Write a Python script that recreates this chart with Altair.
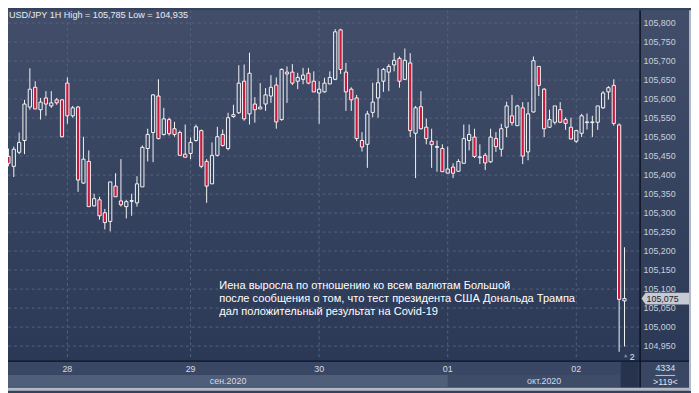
import altair as alt
import pandas as pd

# ---------------- data ----------------
opens = [105.426, 105.449, 105.423, 105.460, 105.491, 105.579, 105.631, 105.572, 105.603, 105.582,
         105.598, 105.598, 105.642, 105.556, 105.579, 105.379, 105.436, 105.319, 105.335, 105.301,
         105.278, 105.371, 105.332, 105.317, 105.331, 105.327, 105.369, 105.470, 105.512, 105.608,
         105.507, 105.546, 105.522, 105.512, 105.455, 105.457, 105.491, 105.517, 105.436, 105.377,
         105.452, 105.507, 105.470, 105.554, 105.564, 105.647, 105.561, 105.587, 105.574, 105.587,
         105.608, 105.637, 105.546, 105.671, 105.671, 105.647, 105.652, 105.668, 105.647, 105.616,
         105.619, 105.640, 105.652, 105.782, 105.671, 105.626, 105.603, 105.491, 105.481, 105.565,
         105.603, 105.647, 105.671, 105.690, 105.707, 105.652, 105.695, 105.510, 105.580, 105.526,
         105.489, 105.473, 105.470, 105.405, 105.421, 105.410, 105.431, 105.491, 105.500, 105.446,
         105.452, 105.435, 105.496, 105.468, 105.526, 105.556, 105.530, 105.577, 105.461, 105.566,
         105.686, 105.626, 105.526, 105.539, 105.572, 105.546, 105.526, 105.489, 105.510, 105.538,
         105.538, 105.539, 105.577, 105.619, 105.636, 105.532, 105.069]
highs = [105.465, 105.470, 105.475, 105.512, 105.598, 105.681, 105.647, 105.603, 105.621, 105.621,
         105.603, 105.600, 105.657, 105.582, 105.582, 105.501, 105.465, 105.351, 105.343, 105.311,
         105.382, 105.405, 105.442, 105.335, 105.351, 105.397, 105.478, 105.522, 105.613, 105.652,
         105.577, 105.551, 105.540, 105.517, 105.533, 105.499, 105.533, 105.520, 105.442, 105.486,
         105.527, 105.520, 105.564, 105.585, 105.689, 105.691, 105.722, 105.605, 105.642, 105.629,
         105.663, 105.657, 105.681, 105.686, 105.692, 105.669, 105.682, 105.682, 105.673, 105.647,
         105.656, 105.673, 105.784, 105.785, 105.695, 105.631, 105.611, 105.513, 105.569, 105.643,
         105.681, 105.682, 105.692, 105.722, 105.712, 105.733, 105.721, 105.582, 105.621, 105.549,
         105.522, 105.491, 105.481, 105.475, 105.431, 105.442, 105.533, 105.533, 105.522, 105.481,
         105.458, 105.522, 105.513, 105.535, 105.593, 105.611, 105.585, 105.592, 105.592, 105.712,
         105.686, 105.629, 105.572, 105.582, 105.592, 105.552, 105.551, 105.519, 105.561, 105.562,
         105.556, 105.582, 105.621, 105.634, 105.652, 105.536, 105.210]
lows = [105.413, 105.423, 105.395, 105.455, 105.455, 105.572, 105.574, 105.546, 105.556, 105.577,
        105.585, 105.499, 105.535, 105.551, 105.356, 105.377, 105.317, 105.317, 105.283, 105.257,
        105.252, 105.343, 105.317, 105.286, 105.293, 105.317, 105.369, 105.436, 105.434, 105.494,
        105.504, 105.504, 105.501, 105.452, 105.447, 105.442, 105.488, 105.418, 105.327, 105.377,
        105.449, 105.475, 105.465, 105.551, 105.561, 105.543, 105.533, 105.538, 105.574, 105.569,
        105.590, 105.522, 105.543, 105.590, 105.637, 105.626, 105.639, 105.639, 105.618, 105.535,
        105.617, 105.639, 105.650, 105.666, 105.569, 105.569, 105.489, 105.462, 105.419, 105.552,
        105.551, 105.619, 105.621, 105.673, 105.630, 105.650, 105.500, 105.392, 105.520, 105.481,
        105.419, 105.409, 105.409, 105.405, 105.392, 105.409, 105.431, 105.465, 105.445, 105.429,
        105.413, 105.432, 105.461, 105.449, 105.500, 105.530, 105.530, 105.429, 105.439, 105.565,
        105.608, 105.500, 105.524, 105.533, 105.537, 105.519, 105.494, 105.485, 105.500, 105.520,
        105.500, 105.519, 105.574, 105.599, 105.530, 104.935, 104.949]
closes = [105.447, 105.431, 105.468, 105.486, 105.587, 105.626, 105.574, 105.592, 105.587, 105.590,
          105.590, 105.501, 105.556, 105.577, 105.387, 105.442, 105.317, 105.338, 105.293, 105.275,
          105.382, 105.343, 105.322, 105.330, 105.333, 105.377, 105.473, 105.507, 105.611, 105.496,
          105.548, 105.509, 105.507, 105.452, 105.447, 105.486, 105.527, 105.423, 105.371, 105.452,
          105.501, 105.478, 105.551, 105.559, 105.642, 105.548, 105.668, 105.572, 105.579, 105.611,
          105.631, 105.540, 105.678, 105.666, 105.642, 105.657, 105.663, 105.642, 105.619, 105.626,
          105.642, 105.657, 105.777, 105.678, 105.619, 105.598, 105.496, 105.474, 105.561, 105.592,
          105.643, 105.678, 105.686, 105.702, 105.647, 105.702, 105.517, 105.577, 105.522, 105.496,
          105.480, 105.475, 105.409, 105.416, 105.405, 105.436, 105.496, 105.507, 105.449, 105.448,
          105.432, 105.500, 105.475, 105.522, 105.582, 105.538, 105.582, 105.450, 105.561, 105.701,
          105.636, 105.522, 105.546, 105.582, 105.539, 105.536, 105.495, 105.517, 105.556, 105.540,
          105.540, 105.582, 105.616, 105.630, 105.536, 105.073, 105.075]

price_ticks = [104.95, 105.00, 105.05, 105.10, 105.15, 105.20, 105.25, 105.30, 105.35,
               105.40, 105.45, 105.50, 105.55, 105.60, 105.65, 105.70, 105.75, 105.80]
day_ticks = [12, 35, 59, 83, 107]
day_labels = ["28", "29", "30", "01", "02"]
month_labels = ["сен.2020", "окт.2020"]
month_pos = [42, 101]

title_text = "USD/JPY 1H High = 105,785 Low = 104,935"
note_lines = [
    "Иена выросла по отношению ко всем валютам Большой",
    "после сообщения о том, что тест президента США Дональда Трампа",
    "\u00a0дал положительный результат на Covid-19",
]
counter_top = "4334"
counter_bottom = ">119<"
marker_text = "2"

# ---------------- styling ----------------
FONT = "Liberation Sans"
W, H = 639, 354
BG_TOP, BG_BOT = "#424e69", "#2b3956"
GRID = "#56627c"
RED = "#c8193c"
WHITE = "#f4f5f7"

xs = alt.Scale(domain=[0.92, 118.82], nice=False, zero=False)
ys = alt.Scale(domain=[104.9131, 105.8338], nice=False, zero=False)

one = pd.DataFrame({"a": [0]})


def box(x1, x2, y1, y2, fill):
    return alt.Chart(one).mark_rect(fill=fill).encode(
        x=alt.value(x1), x2=alt.value(x2), y=alt.value(y1), y2=alt.value(y2))


grad = alt.LinearGradient(
    gradient="linear",
    stops=[alt.GradientStop(color=BG_TOP, offset=0), alt.GradientStop(color=BG_BOT, offset=1)],
    x1=0, x2=0, y1=0, y2=1)

bg = alt.Chart(one).mark_rect(fill=grad).encode(
    x=alt.value(0), x2=alt.value(691), y=alt.value(0), y2=alt.value(355))

strip = box(0, 691, 355, 382, "#3a4764")
sep_band = box(0, 445, 369, 381, "#4f5e79")
oct_band = box(445, 619, 369, 381, "#3e4c68")
dark_box = box(620, 638, 356, 382, "#27324c")
frame_b = box(0, 691, 382, 385, "#b3bac5")
frame_r = box(689, 691, 0, 385, "#b3bac5")

vline = alt.Chart(one).mark_rule(color="#0d1220", strokeWidth=1.5).encode(
    x=alt.value(639.5), y=alt.value(0), y2=alt.value(382))
hline = alt.Chart(one).mark_rule(color="#0d1220", strokeWidth=1.5).encode(
    x=alt.value(0), x2=alt.value(689), y=alt.value(355))
cnt_line = alt.Chart(one).mark_rule(color="#c0c7d2", strokeWidth=1).encode(
    x=alt.value(655), x2=alt.value(675), y=alt.value(369.5))

ydf = pd.DataFrame({"v": price_ticks})
grid_y = alt.Chart(ydf).mark_rule(color=GRID, strokeDash=[3, 3], strokeWidth=1).encode(
    y=alt.Y("v:Q", scale=ys, axis=None))
ddf = pd.DataFrame({"d": day_ticks, "lab": day_labels})
grid_x = alt.Chart(ddf).mark_rule(color=GRID, strokeDash=[3, 3], strokeWidth=1).encode(
    x=alt.X("d:Q", scale=xs, axis=None))

ylabels = alt.Chart(ydf).transform_calculate(
    lab="replace(format(datum.v, '.3f'), '.', ',')"
).mark_text(align="left", baseline="middle", font=FONT, fontSize=9, color="#c8d0dc").encode(
    x=alt.value(643), y=alt.Y("v:Q", scale=ys, axis=None), text="lab:N")

xlabels = alt.Chart(ddf).mark_text(
    align="center", baseline="middle", font=FONT, fontSize=9, color="#d5dbe4").encode(
    x=alt.X("d:Q", scale=xs, axis=None), y=alt.value(363.3), text="lab:N")

mdf = pd.DataFrame({"m": month_pos, "lab": month_labels})
mlabels = alt.Chart(mdf).mark_text(
    align="center", baseline="middle", font=FONT, fontSize=9, color="#d5dbe4").encode(
    x=alt.X("m:Q", scale=xs, axis=None), y=alt.value(375), text="lab:N")

cdf = pd.DataFrame({"i": list(range(len(opens))), "o": opens, "h": highs, "l": lows, "c": closes})
base = alt.Chart(cdf).transform_calculate(
    top="max(datum.o, datum.c)", bot="min(datum.o, datum.c)",
    xl="datum.i - 0.3", xr="datum.i + 0.3")

wick_up = base.mark_rule(color=WHITE, strokeWidth=1, clip=True).encode(
    x=alt.X("i:Q", scale=xs, axis=None), y=alt.Y("top:Q", scale=ys, axis=None), y2="h:Q")
wick_dn = base.mark_rule(color=WHITE, strokeWidth=1, clip=True).encode(
    x=alt.X("i:Q", scale=xs, axis=None), y=alt.Y("l:Q", scale=ys, axis=None), y2="bot:Q")
body = base.mark_rect(stroke=WHITE, strokeWidth=1, clip=True).encode(
    x=alt.X("xl:Q", scale=xs, axis=None), x2="xr:Q",
    y=alt.Y("o:Q", scale=ys, axis=None), y2="c:Q",
    fill=alt.condition("datum.c < datum.o", alt.value(RED), alt.value("transparent")))

title = alt.Chart(one).mark_text(
    align="left", baseline="alphabetic", font=FONT, fontSize=9.2, color="#e8ecf2").encode(
    x=alt.value(1), y=alt.value(7.5), text=alt.value(title_text))

note = alt.Chart(one).mark_text(
    align="left", baseline="alphabetic", font=FONT, fontSize=11.2, color="#ffffff",
    lineHeight=13.3).encode(
    x=alt.value(213.7), y=alt.value(282), text=alt.value(note_lines))

tdf = pd.DataFrame({"p": [closes[-1]]})
tag = alt.Chart(tdf).mark_point(
    shape="M -0.67 0 L 0 -1 L 7.4 -1 L 7.4 1 L 0 1 Z", size=144, filled=True,
    color="#c6cad2", opacity=1, strokeWidth=0).encode(
    x=alt.value(645), y=alt.Y("p:Q", scale=ys, axis=None))
tag_text = alt.Chart(tdf).transform_calculate(
    lab="replace(format(datum.p, '.3f'), '.', ',')"
).mark_text(align="left", baseline="middle", font=FONT, fontSize=9, color="#1d2230").encode(
    x=alt.value(646), y=alt.Y("p:Q", scale=ys, axis=None), text="lab:N")

marker_tri = alt.Chart(one).mark_point(shape="triangle-up", size=14, filled=True,
                                       color="#7d8798", opacity=1).encode(
    x=alt.value(625), y=alt.value(349.5))
marker = alt.Chart(one).mark_text(
    align="center", baseline="middle", font=FONT, fontSize=9, color="#e6e9ee").encode(
    x=alt.value(631.5), y=alt.value(351), text=alt.value(marker_text))

cnt1 = alt.Chart(one).mark_text(
    align="center", baseline="middle", font=FONT, fontSize=9, color="#dfe4ec").encode(
    x=alt.value(665), y=alt.value(362.5), text=alt.value(counter_top))
cnt2 = alt.Chart(one).mark_text(
    align="center", baseline="middle", font=FONT, fontSize=9, color="#dfe4ec").encode(
    x=alt.value(665), y=alt.value(376), text=alt.value(counter_bottom))

chart = alt.layer(
    bg, strip, sep_band, oct_band, dark_box,
    grid_y, grid_x,
    wick_up, wick_dn, body,
    ylabels, xlabels, mlabels,
    tag, tag_text,
    title, note, marker_tri, marker, cnt1, cnt_line, cnt2,
    vline, hline, frame_b, frame_r,
).properties(
    width=W, height=H,
    padding={"left": 0, "top": 0, "right": 52, "bottom": 31},
    autosize=alt.AutoSizeParams(type="none"),
    background="#35425e",
).configure_view(stroke=None)

chart.save("out.html", embed_options={"renderer": "svg", "actions": False})
